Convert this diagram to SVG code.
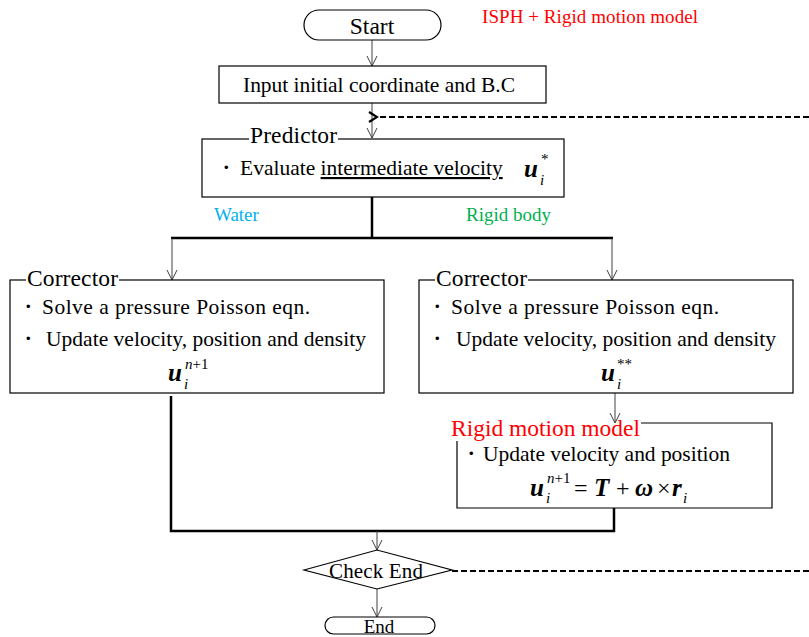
<svg xmlns="http://www.w3.org/2000/svg" width="809" height="637" viewBox="0 0 809 637">
<defs>
<marker id="ah" viewBox="0 0 12 12" refX="11" refY="6" markerWidth="12" markerHeight="12" markerUnits="userSpaceOnUse" orient="auto">
<path d="M1,1 L11,6 L1,11" fill="none" stroke="#404040" stroke-width="1"/>
</marker>
<marker id="ahb" viewBox="0 0 12 12" refX="2" refY="6" markerWidth="12" markerHeight="12" markerUnits="userSpaceOnUse" orient="auto">
<path d="M10,1 L2,6 L10,11" fill="none" stroke="#000" stroke-width="2.2"/>
</marker>
</defs>
<style>
text{font-family:"Liberation Serif","Times New Roman",serif;fill:#000}
.box{fill:#fff;stroke:#000;stroke-width:1.2}
.t{font-size:21.5px}
.h{font-size:23.5px}
.s{font-size:19px}
.thin{fill:none;stroke:#404040;stroke-width:1}
.thick{fill:none;stroke:#000;stroke-width:2.5}
.dash{fill:none;stroke:#000;stroke-width:2;stroke-dasharray:6,3}
.m{font-weight:bold;font-style:italic;font-size:25px}
.o{font-size:24px}
.sub{font-style:italic;font-size:15px;font-weight:normal}
.sup{font-size:15px}
</style>
<rect width="809" height="637" fill="#fff"/>
<g id="connectors">
<line class="thin" x1="372" y1="40" x2="372" y2="66" marker-end="url(#ah)"/>
<line class="thin" x1="372" y1="103" x2="372" y2="138" marker-end="url(#ah)"/>
<line class="dash" x1="809" y1="117" x2="377" y2="117" marker-end="url(#ahb)"/>
<polyline class="thick" points="372,197 372,238"/>
<polyline class="thick" points="171,238 613,238"/>
<line class="thin" x1="172" y1="238" x2="172" y2="280" marker-end="url(#ah)"/>
<line class="thin" x1="612" y1="238" x2="612" y2="280" marker-end="url(#ah)"/>
<line class="thin" x1="615" y1="393" x2="615" y2="423" marker-end="url(#ah)"/>
<polyline class="thick" points="171,396 171,531 614,531 614,508"/>
<line class="thin" x1="377" y1="531" x2="377" y2="550" marker-end="url(#ah)"/>
<line class="thin" x1="377" y1="589" x2="377" y2="617" marker-end="url(#ah)"/>
<line class="dash" x1="452" y1="571" x2="809" y2="571"/>
</g>
<text class="s" x="482" y="23" textLength="216" style="fill:#FF0000">ISPH + Rigid motion model</text>
<g id="start">
<rect class="box" x="304" y="10" width="137" height="30" rx="15"/>
<text class="h" x="372" y="34" text-anchor="middle">Start</text>
</g>
<g id="input">
<rect class="box" x="219" y="66" width="327" height="37"/>
<text class="t" x="243" y="92" textLength="272">Input initial coordinate and B.C</text>
</g>
<g id="predictor">
<rect class="box" x="202" y="139" width="362" height="58"/>
<rect x="249" y="133" width="89" height="10" fill="#fff"/>
<text class="h" x="250" y="143" textLength="87">Predictor</text>
<text class="t" x="215" y="175">・</text>
<text class="t" x="240" y="175">Evaluate <tspan text-decoration="underline">intermediate velocity</tspan></text>
<text class="m" x="524" y="177">u</text>
<text class="sub" x="540" y="185">i</text>
<text class="sup" x="541" y="164">*</text>
</g>
<text class="s" x="214" y="221" style="fill:#00B0F0">Water</text>
<text class="s" x="466" y="221" style="fill:#00B050">Rigid body</text>
<g id="corrector-water">
<rect class="box" x="10" y="280" width="374" height="113"/>
<rect x="26" y="274" width="93" height="10" fill="#fff"/>
<text class="h" x="27" y="286" textLength="91">Corrector</text>
<text class="t" x="17" y="314">・</text>
<text class="t" x="42" y="314" textLength="268">Solve a pressure Poisson eqn.</text>
<text class="t" x="17" y="346">・</text>
<text class="t" x="46" y="346" textLength="320">Update velocity, position and density</text>
<text class="m" x="168" y="381">u</text>
<text class="sub" x="184" y="389">i</text>
<text class="sub" x="185" y="369">n<tspan style="font-style:normal">+1</tspan></text>
</g>
<g id="corrector-rigid">
<rect class="box" x="419" y="280" width="374" height="113"/>
<rect x="435" y="274" width="93" height="10" fill="#fff"/>
<text class="h" x="436" y="286" textLength="91">Corrector</text>
<text class="t" x="426" y="314">・</text>
<text class="t" x="451" y="314" textLength="268">Solve a pressure Poisson eqn.</text>
<text class="t" x="426" y="346">・</text>
<text class="t" x="456" y="346" textLength="320">Update velocity, position and density</text>
<text class="m" x="601" y="381">u</text>
<text class="sub" x="617" y="389">i</text>
<text class="sup" x="617" y="369">**</text>
</g>
<g id="rigid-motion">
<path d="M641,423 L772,423 L772,508 L457,508 L457,441" fill="none" stroke="#000" stroke-width="1.2"/>
<text class="h" x="451" y="436" textLength="189" style="fill:#FF0000">Rigid motion model</text>
<text class="t" x="460" y="461">・</text>
<text class="t" x="483" y="461" textLength="247">Update velocity and position</text>
<text class="m" x="530" y="496">u</text>
<text class="sub" x="546" y="503">i</text>
<text class="sub" x="547" y="483">n<tspan style="font-style:normal">+1</tspan></text>
<text class="o" x="574" y="496">=</text>
<text class="m" x="594" y="496">T</text>
<text class="o" x="616" y="496">+</text>
<text class="m" x="635" y="496">ω</text>
<text class="o" x="657" y="496">×</text>
<text class="m" x="672" y="496">r</text>
<text class="sub" x="683" y="503">i</text>
</g>
<g id="check-end">
<polygon class="box" points="304,570 377,550 452,570 377,589"/>
<text x="376" y="578" text-anchor="middle" textLength="94" style="font-size:21px">Check End</text>
</g>
<g id="end">
<rect class="box" x="325" y="617" width="110" height="17" rx="8.5"/>
<text x="379" y="633" text-anchor="middle" style="font-size:19px">End</text>
</g>
</svg>
